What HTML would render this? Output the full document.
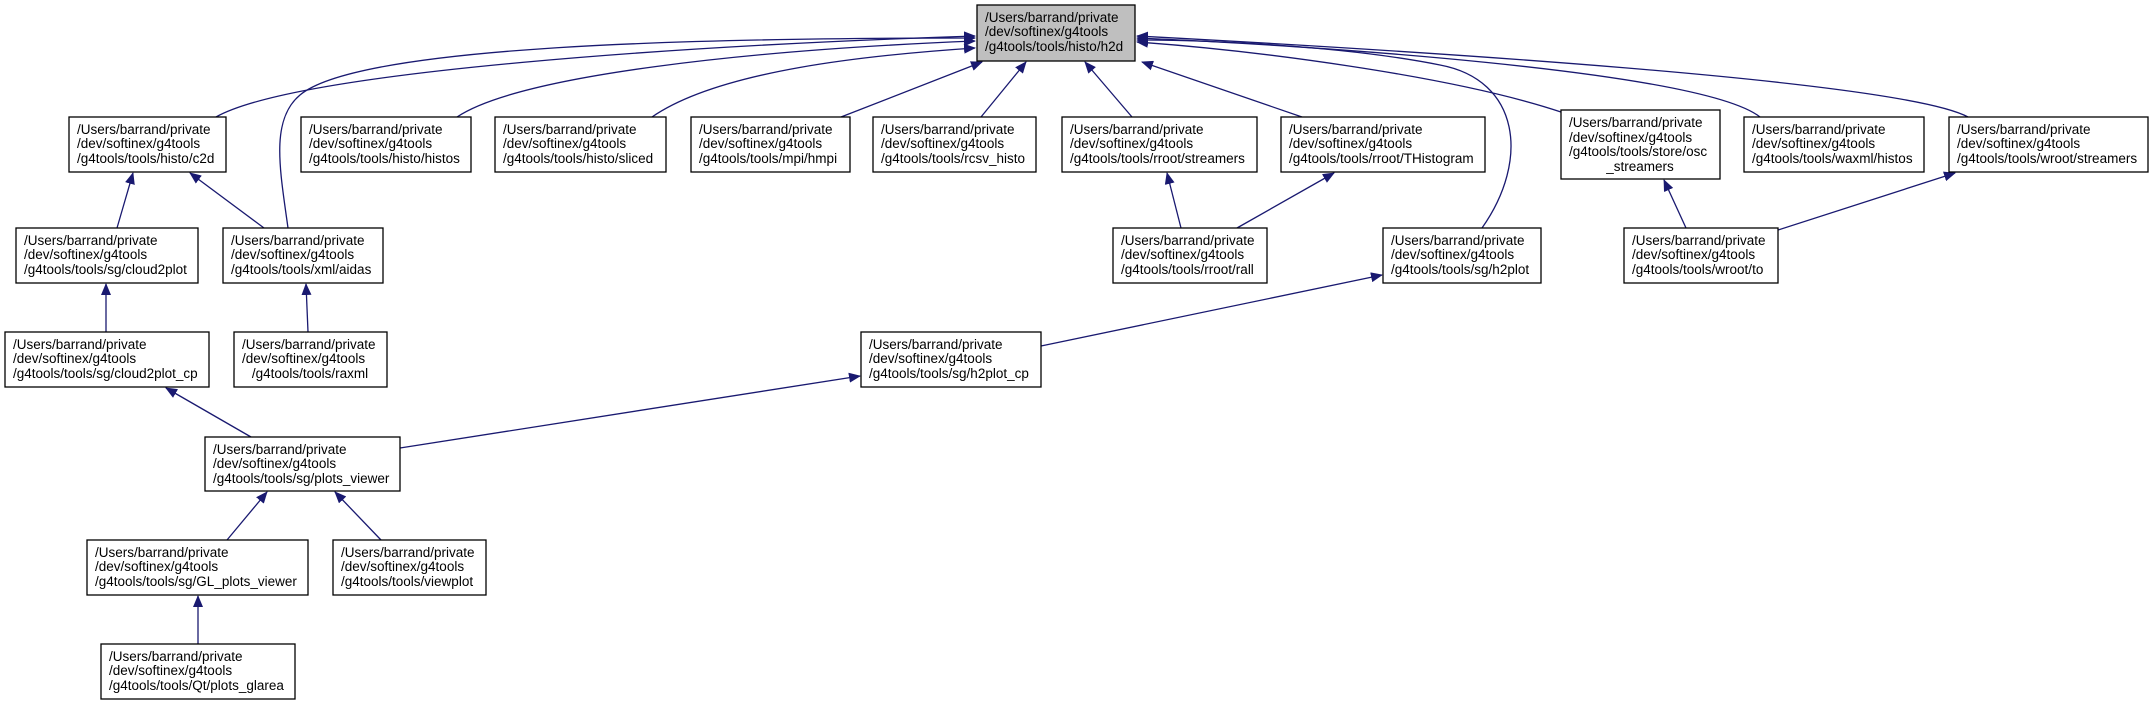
<!DOCTYPE html>
<html><head><meta charset="utf-8"><style>
html,body{margin:0;padding:0;background:#fff}
svg{display:block}
text{font-family:"Liberation Sans",Arial,sans-serif;font-size:13.5px;fill:#000}
.b{fill:#fff;stroke:#000;stroke-width:1.3}
.e{fill:none;stroke:#191970;stroke-width:1.3}
</style></head><body>
<svg width="2154" height="705" viewBox="0 0 2154 705" xmlns="http://www.w3.org/2000/svg">
<defs><marker id="a" markerWidth="12" markerHeight="10" refX="11" refY="5" orient="auto" markerUnits="userSpaceOnUse"><path d="M0,0 L12,5 L0,10 z" fill="#191970"/></marker></defs>

<!-- edges -->
<g class="e" marker-end="url(#a)">
<path d="M216,117 C300,70 700,45 975,36"/>
<path d="M288,228 C280,170 270,120 300,95 C360,45 700,38 975,38"/>
<path d="M457,117 C520,75 750,50 975,41"/>
<path d="M652,117 C720,70 870,55 975,48"/>
<path d="M841,117 L982,62"/>
<path d="M981,117 L1026,62"/>
<path d="M1132,117 L1085,62"/>
<path d="M1302,117 L1142,62"/>
<path d="M1482,228 C1530,160 1520,80 1440,65 C1340,45 1200,40 1137,40"/>
<path d="M1561,112 C1450,75 1250,50 1137,42"/>
<path d="M1760,117 C1700,70 1300,45 1137,38"/>
<path d="M1968,117 C1900,80 1400,50 1137,36"/>
<path d="M117,228 L133,173"/>
<path d="M264,228 L190,173"/>
<path d="M106,332 L106,284"/>
<path d="M308,332 L306,284"/>
<path d="M1181,228 L1167,173"/>
<path d="M1237,228 L1334,173"/>
<path d="M1686,228 L1664,180"/>
<path d="M1778,230 L1955,173"/>
<path d="M1041,346 L1382,275"/>
<path d="M400,448 L860,376"/>
<path d="M251,437 L166,388"/>
<path d="M227,540 L267,492"/>
<path d="M381,540 L335,492"/>
<path d="M198,644 L198,596"/>
</g>

<!-- nodes -->
<rect x="977" y="5" width="158" height="56" fill="#bfbfbf" stroke="#000" stroke-width="1.3"/>
<text x="985" y="22">/Users/barrand/private</text><text x="985" y="36">/dev/softinex/g4tools</text><text x="985" y="51">/g4tools/tools/histo/h2d</text>

<g>
<rect class="b" x="69" y="117" width="157" height="55"/>
<text x="77" y="134">/Users/barrand/private</text><text x="77" y="148">/dev/softinex/g4tools</text><text x="77" y="163">/g4tools/tools/histo/c2d</text>

<rect class="b" x="301" y="117" width="170" height="55"/>
<text x="309" y="134">/Users/barrand/private</text><text x="309" y="148">/dev/softinex/g4tools</text><text x="309" y="163">/g4tools/tools/histo/histos</text>

<rect class="b" x="495" y="117" width="171" height="55"/>
<text x="503" y="134">/Users/barrand/private</text><text x="503" y="148">/dev/softinex/g4tools</text><text x="503" y="163">/g4tools/tools/histo/sliced</text>

<rect class="b" x="691" y="117" width="159" height="55"/>
<text x="699" y="134">/Users/barrand/private</text><text x="699" y="148">/dev/softinex/g4tools</text><text x="699" y="163">/g4tools/tools/mpi/hmpi</text>

<rect class="b" x="873" y="117" width="163" height="55"/>
<text x="881" y="134">/Users/barrand/private</text><text x="881" y="148">/dev/softinex/g4tools</text><text x="881" y="163">/g4tools/tools/rcsv_histo</text>

<rect class="b" x="1062" y="117" width="195" height="55"/>
<text x="1070" y="134">/Users/barrand/private</text><text x="1070" y="148">/dev/softinex/g4tools</text><text x="1070" y="163">/g4tools/tools/rroot/streamers</text>

<rect class="b" x="1281" y="117" width="204" height="55"/>
<text x="1289" y="134">/Users/barrand/private</text><text x="1289" y="148">/dev/softinex/g4tools</text><text x="1289" y="163">/g4tools/tools/rroot/THistogram</text>

<rect class="b" x="1561" y="110" width="159" height="69"/>
<text x="1569" y="127">/Users/barrand/private</text><text x="1569" y="142">/dev/softinex/g4tools</text><text x="1569" y="156">/g4tools/tools/store/osc</text><text x="1640" y="171" text-anchor="middle">_streamers</text>

<rect class="b" x="1744" y="117" width="180" height="55"/>
<text x="1752" y="134">/Users/barrand/private</text><text x="1752" y="148">/dev/softinex/g4tools</text><text x="1752" y="163">/g4tools/tools/waxml/histos</text>

<rect class="b" x="1949" y="117" width="199" height="55"/>
<text x="1957" y="134">/Users/barrand/private</text><text x="1957" y="148">/dev/softinex/g4tools</text><text x="1957" y="163">/g4tools/tools/wroot/streamers</text>

<rect class="b" x="16" y="228" width="182" height="55"/>
<text x="24" y="245">/Users/barrand/private</text><text x="24" y="259">/dev/softinex/g4tools</text><text x="24" y="274">/g4tools/tools/sg/cloud2plot</text>

<rect class="b" x="223" y="228" width="160" height="55"/>
<text x="231" y="245">/Users/barrand/private</text><text x="231" y="259">/dev/softinex/g4tools</text><text x="231" y="274">/g4tools/tools/xml/aidas</text>

<rect class="b" x="1113" y="228" width="154" height="55"/>
<text x="1121" y="245">/Users/barrand/private</text><text x="1121" y="259">/dev/softinex/g4tools</text><text x="1121" y="274">/g4tools/tools/rroot/rall</text>

<rect class="b" x="1383" y="228" width="158" height="55"/>
<text x="1391" y="245">/Users/barrand/private</text><text x="1391" y="259">/dev/softinex/g4tools</text><text x="1391" y="274">/g4tools/tools/sg/h2plot</text>

<rect class="b" x="1624" y="228" width="154" height="55"/>
<text x="1632" y="245">/Users/barrand/private</text><text x="1632" y="259">/dev/softinex/g4tools</text><text x="1632" y="274">/g4tools/tools/wroot/to</text>

<rect class="b" x="5" y="332" width="204" height="55"/>
<text x="13" y="349">/Users/barrand/private</text><text x="13" y="363">/dev/softinex/g4tools</text><text x="13" y="378">/g4tools/tools/sg/cloud2plot_cp</text>

<rect class="b" x="234" y="332" width="153" height="55"/>
<text x="242" y="349">/Users/barrand/private</text><text x="242" y="363">/dev/softinex/g4tools</text><text x="310" y="378" text-anchor="middle">/g4tools/tools/raxml</text>

<rect class="b" x="861" y="332" width="180" height="55"/>
<text x="869" y="349">/Users/barrand/private</text><text x="869" y="363">/dev/softinex/g4tools</text><text x="869" y="378">/g4tools/tools/sg/h2plot_cp</text>

<rect class="b" x="205" y="437" width="195" height="54"/>
<text x="213" y="454">/Users/barrand/private</text><text x="213" y="468">/dev/softinex/g4tools</text><text x="213" y="483">/g4tools/tools/sg/plots_viewer</text>

<rect class="b" x="87" y="540" width="221" height="55"/>
<text x="95" y="557">/Users/barrand/private</text><text x="95" y="571">/dev/softinex/g4tools</text><text x="95" y="586">/g4tools/tools/sg/GL_plots_viewer</text>

<rect class="b" x="333" y="540" width="153" height="55"/>
<text x="341" y="557">/Users/barrand/private</text><text x="341" y="571">/dev/softinex/g4tools</text><text x="341" y="586">/g4tools/tools/viewplot</text>

<rect class="b" x="101" y="644" width="194" height="55"/>
<text x="109" y="661">/Users/barrand/private</text><text x="109" y="675">/dev/softinex/g4tools</text><text x="109" y="690">/g4tools/tools/Qt/plots_glarea</text>
</g>
</svg>
</body></html>
